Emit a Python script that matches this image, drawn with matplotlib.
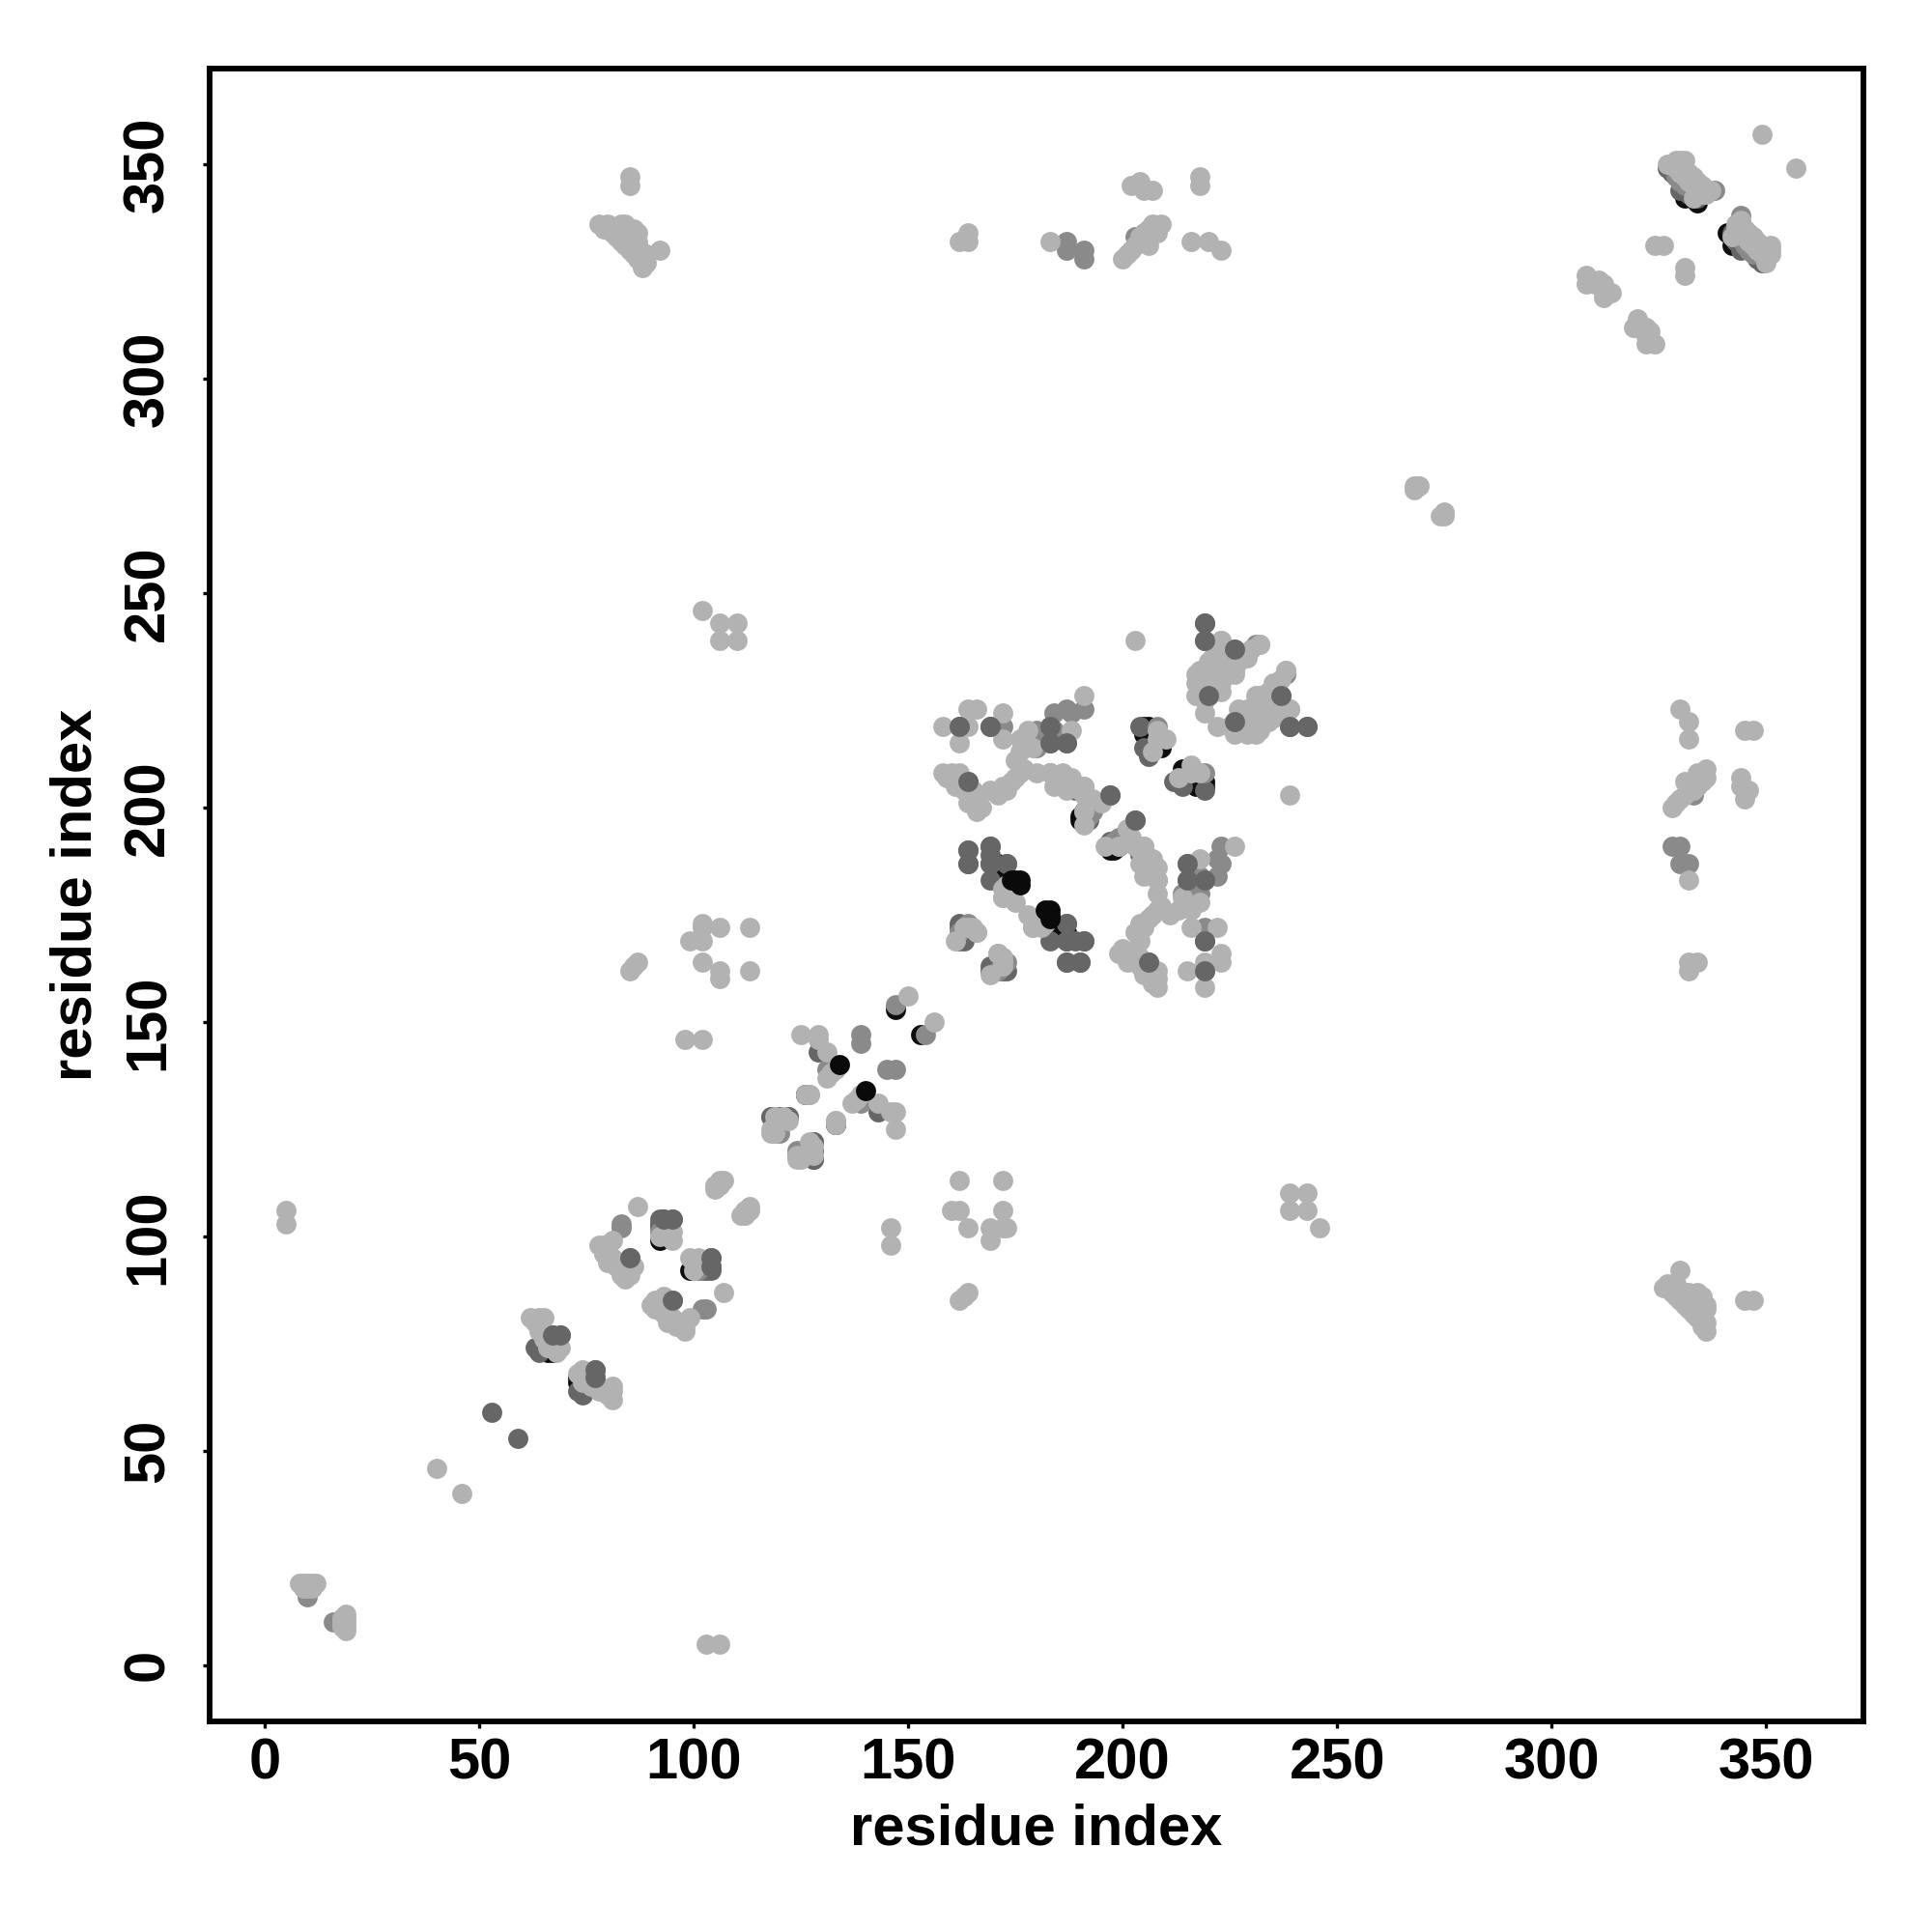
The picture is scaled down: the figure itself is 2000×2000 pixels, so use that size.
import numpy as np
import matplotlib
matplotlib.use('Agg')
import matplotlib.pyplot as plt

plt.rcParams['font.family'] = ['Liberation Sans', 'DejaVu Sans']
plt.rcParams['font.weight'] = 'bold'

# contacts, only i < j, the other half is mirrored below
black_under = [(67, 73), (66, 73), (92, 99), (147, 153), (126, 133),
               (171, 187), (172, 183), (174, 183), (190, 197), (190, 198), (191, 199),
               (162, 206), (166, 200), (205, 217), (205, 219), (206, 219), (206, 216),
               (209, 214), (208, 215), (226, 236), (226, 235), (334, 341), (333, 342),
               (331, 342)]

dark = [(53, 59), (63, 74), (64, 73), (67, 77), (69, 77), (92, 104), (93, 104), (95, 104),
        (92, 103), (92, 102), (85, 95), (118, 128), (120, 128), (122, 128), (122, 128),
        (120, 128), (118, 128), (129, 143), (119, 125), (126, 133), (126, 133),
        (164, 190), (164, 187), (169, 191), (169, 189), (169, 187), (169, 183), (173, 187),
        (162, 172), (163, 169), (162, 169), (162, 173), (162, 219), (169, 219), (183, 215),
        (187, 215), (164, 206), (189, 204), (197, 203), (192, 197), (204, 219), (219, 243),
        (219, 239), (220, 226), (183, 219), (206, 212), (205, 214), (191, 199),
        (327, 349), (328, 348), (330, 344), (332, 343), (334, 342)]

mid = [(10, 17), (10, 16), (83, 103), (83, 102), (92, 101), (139, 147), (139, 145),
       (131, 139), (119, 124), (120, 124), (147, 154), (172, 219), (180, 218),
       (180, 214), (184, 222), (187, 223), (188, 222), (191, 223), (184, 218), (183, 217),
       (183, 208), (192, 198), (193, 199), (226, 237), (231, 238), (208, 219), (164, 173),
       (163, 172), (162, 171), (164, 172), (187, 332), (187, 330), (191, 330), (191, 328),
       (338, 344), (329, 347), (330, 346), (331, 345), (203, 333), (205, 332), (206, 333),
       (87, 331), (86, 333), (82, 335), (83, 334)]

light = [(8, 19), (9, 19), (10, 19), (9, 18), (10, 18), (11, 19), (12, 19), (11, 18),
         (5, 103), (5, 106), (40, 46), (62, 81), (64, 81), (65, 81), (63, 80), (64, 79),
         (64, 78), (65, 77), (65, 76), (66, 75), (67, 75), (68, 75), (69, 74), (68, 73),
         (66, 74), (78, 98), (79, 98), (80, 97), (81, 99), (79, 96), (81, 95), (80, 94),
         (82, 93), (83, 92), (84, 90), (83, 91), (85, 91), (86, 93), (87, 107), (92, 100),
         (95, 101), (94, 100), (95, 99), (105, 111), (105, 112), (106, 112), (106, 113),
         (107, 113), (98, 146), (102, 146), (118, 125), (125, 147), (129, 147), (129, 146),
         (118, 124), (119, 124), (120, 127), (122, 127), (121, 128), (119, 128), (126, 133),
         (127, 133), (127, 133), (131, 143), (131, 137), (132, 138), (133, 139), (150, 156),
         (85, 162), (86, 163), (87, 164), (99, 169), (102, 169), (102, 172), (102, 173),
         (102, 164), (106, 172), (113, 172), (106, 162), (106, 160), (113, 162),
         (102, 246), (106, 243), (110, 243), (106, 239), (110, 239), (158, 219), (164, 219),
         (162, 215), (164, 223), (166, 223), (172, 222), (172, 216), (176, 216), (176, 213),
         (175, 211), (178, 218), (191, 226), (188, 218), (179, 214), (158, 208), (159, 207),
         (160, 208), (162, 208), (161, 205), (163, 204), (165, 204), (166, 202), (166, 199),
         (167, 200), (164, 201), (169, 204), (171, 203), (172, 205), (173, 204), (174, 206),
         (175, 207), (176, 208), (177, 209), (180, 208), (184, 205), (185, 207), (187, 207),
         (187, 204), (189, 205), (191, 205), (191, 203), (195, 201), (193, 202), (191, 199),
         (191, 196), (195, 201), (191, 205), (190, 204), (188, 207), (186, 208), (183, 208),
         (172, 179), (173, 182), (174, 180), (175, 178), (172, 181), (172, 179), (173, 180),
         (164, 172), (166, 171), (161, 169), (165, 172), (166, 171), (163, 172), (203, 239),
         (210, 216), (208, 218), (207, 213), (208, 216), (217, 231), (217, 229), (217, 226),
         (218, 232), (219, 232), (220, 231), (221, 230), (222, 229), (220, 234), (221, 235),
         (223, 239), (222, 237), (223, 234), (224, 233), (225, 232), (226, 231), (228, 235),
         (229, 236), (230, 237), (232, 238), (221, 228), (223, 227), (219, 222), (219, 225),
         (218, 226), (218, 229), (218, 231), (220, 229), (223, 229), (221, 232), (226, 232),
         (225, 233), (221, 235), (229, 235), (232, 238), (223, 239), (227, 234),
         (83, 336), (78, 336), (79, 335), (80, 336), (81, 334), (82, 333), (83, 332),
         (84, 331), (85, 330), (86, 329), (87, 328), (88, 326), (89, 327), (84, 336),
         (85, 333), (86, 335), (87, 334), (87, 332), (89, 329), (92, 330), (85, 345),
         (85, 347), (162, 332), (164, 334), (164, 332), (183, 332), (200, 328), (201, 329),
         (202, 330), (203, 331), (204, 332), (205, 334), (206, 335), (207, 336), (209, 336),
         (204, 333), (206, 331), (208, 334), (204, 346), (202, 345), (207, 344), (205, 344),
         (218, 347), (218, 345), (216, 332), (220, 332), (223, 330), (268, 274), (268, 275),
         (269, 275), (308, 322), (308, 324), (310, 322), (311, 323), (312, 322), (312, 320),
         (314, 320), (312, 319), (324, 331), (326, 331),
         (328, 350), (329, 351), (330, 351), (331, 351), (330, 350), (331, 349), (332, 348),
         (333, 347), (334, 346), (335, 345), (336, 344), (337, 344), (329, 349), (330, 348),
         (331, 347), (332, 346), (333, 345), (334, 344), (335, 343), (336, 343), (327, 350),
         (329, 350), (349, 357), (333, 342)]

# the darker ones that sit on top of the others
black_top = [(134, 140), (175, 183), (176, 183), (176, 182), (174, 183)]
dark_top = [(169, 219), (162, 219), (219, 243), (197, 203), (164, 187), (164, 190), (95, 104),
            (93, 104), (69, 77), (67, 77), (183, 215), (187, 215), (183, 219), (226, 237),
            (220, 226), (173, 187), (169, 191), (169, 187), (164, 206), (85, 95), (219, 239)]

x_ticks = [0, 50, 100, 150, 200, 250, 300, 350]
y_ticks = [0, 50, 100, 150, 200, 250, 300, 350]
x_label = 'residue index'
y_label = 'residue index'


def both_sides(pairs):
    pairs = np.array(pairs)
    return np.r_[pairs[:, 0], pairs[:, 1]], np.r_[pairs[:, 1], pairs[:, 0]]


fig = plt.figure(figsize=(20, 20), dpi=100)
ax = fig.add_axes([216.8 / 2000, 1 - 1782 / 2000, 1711.8 / 2000, 1710.6 / 2000])

layers = [(black_under, '#0d0d0d'), (dark, '#666666'), (mid, '#8a8a8a'), (light, '#b2b2b2'),
          (dark_top, '#666666'), (black_top, '#0a0a0a')]
for pairs, col in layers:
    xs, ys = both_sides(pairs)
    ax.scatter(xs, ys, s=225, color=col, linewidths=0, zorder=3)

ax.set_xlim(-12.9, 372.6)
ax.set_ylim(-13.1, 372.2)
ax.set_xticks(x_ticks)
ax.set_yticks(y_ticks)
ax.tick_params(axis='x', length=5, width=2.4, labelsize=43, pad=7)
ax.tick_params(axis='y', length=5, width=2.4, labelsize=43, pad=20.5)
for lab in ax.get_yticklabels():
    lab.set_rotation(90)
    lab.set_va('center')
for s in ax.spines.values():
    s.set_linewidth(4.2)

ax.set_xlabel(x_label, fontsize=43, fontweight='bold', labelpad=9)
ax.set_ylabel(y_label, fontsize=43, fontweight='bold', labelpad=14.5)

fig.savefig('out.png', dpi=100)
